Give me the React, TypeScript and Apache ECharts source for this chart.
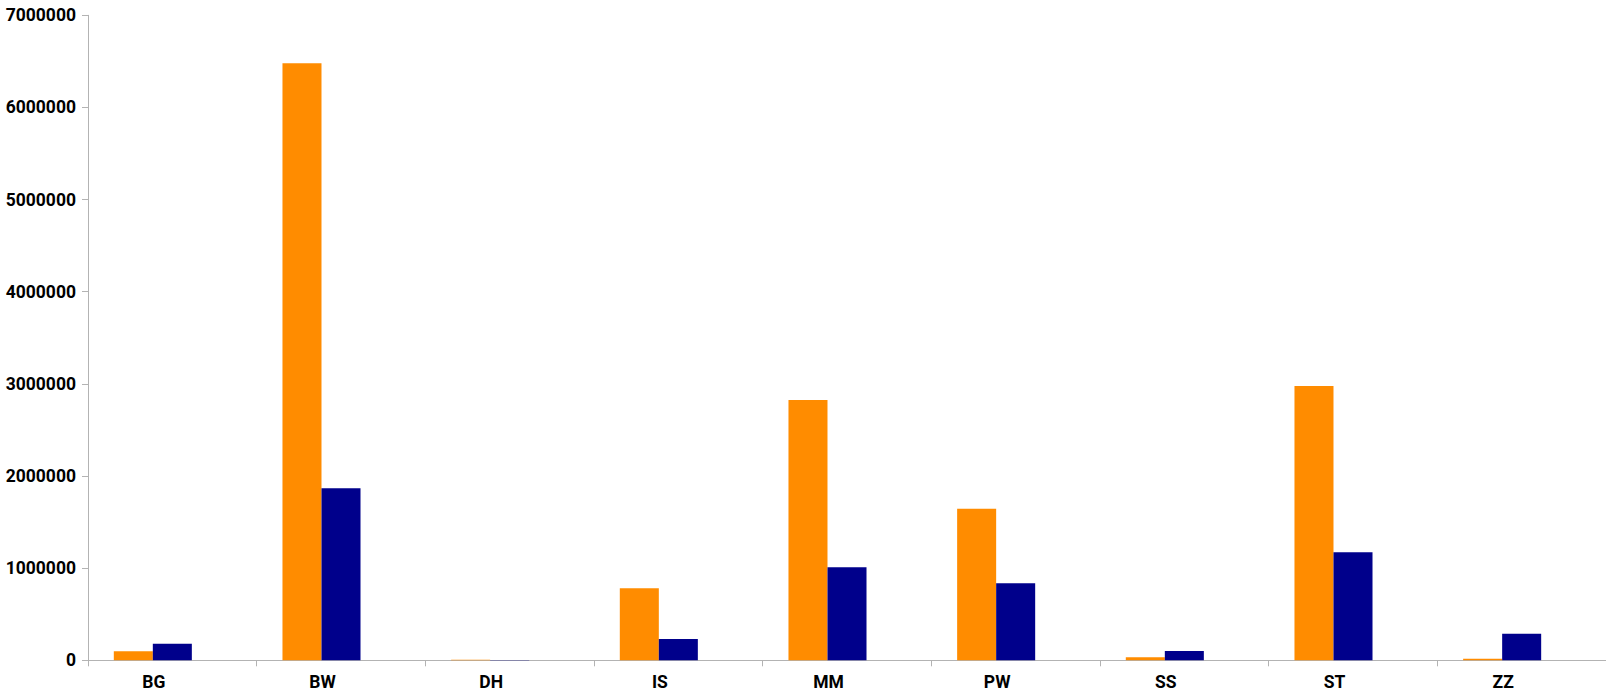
import React, { useEffect, useRef } from "react";
import * as echarts from "echarts";

const categories = ["BG", "BW", "DH", "IS", "MM", "PW", "SS", "ST", "ZZ"];
const seriesA = [98000, 6480000, 6000, 781000, 2825000, 1645000, 33000, 2977000, 17000];
const seriesB = [180000, 1866000, 4000, 231000, 1009000, 836000, 100000, 1172000, 289000];
const seriesC: (number | null)[] = [null, null, null, null, null, null, null, null, null];
const yTicks = { min: 0, max: 7000000, interval: 1000000 };

export default function App() {
  const ref = useRef<HTMLDivElement>(null);
  useEffect(() => {
    if (!ref.current) return;
    const chart = echarts.init(ref.current, undefined, { renderer: "svg" });
    const labelFont = {
      fontFamily: "Roboto",
      fontWeight: "bold" as const,
      fontSize: 17.5,
      color: "#000",
    };
    chart.setOption({
      animation: false,
      grid: { left: 88, right: 0, top: 15.3, bottom: 39.7, outerBoundsMode: "none" },
      xAxis: {
        type: "category",
        data: categories,
        axisLine: { lineStyle: { color: "#b3b3b3", width: 1 } },
        axisTick: { show: true, length: 6, lineStyle: { color: "#b3b3b3" } },
        axisLabel: { ...labelFont, margin: 13, padding: [0, 37, 0, 0] },
        splitLine: { show: false },
      },
      yAxis: {
        type: "value",
        min: yTicks.min,
        max: yTicks.max,
        interval: yTicks.interval,
        axisLine: { show: true, lineStyle: { color: "#b3b3b3", width: 1 } },
        axisTick: { show: true, length: 6, lineStyle: { color: "#b3b3b3" } },
        axisLabel: { ...labelFont, margin: 12, formatter: (v: number) => String(v) },
        splitLine: { show: false },
      },
      series: [
        {
          type: "bar",
          data: seriesA,
          barGap: "0%",
          barCategoryGap: "30.6%",
          itemStyle: { color: "#FF8C00" },
        },
        {
          type: "bar",
          data: seriesB,
          barGap: "0%",
          barCategoryGap: "30.6%",
          itemStyle: { color: "#00008B" },
        },
        {
          type: "bar",
          data: seriesC,
          barGap: "0%",
          barCategoryGap: "30.6%",
          itemStyle: { color: "#888888" },
        },
      ],
    });
    return () => chart.dispose();
  }, []);
  return (
    <div
      ref={ref}
      style={{ position: "absolute", left: 0, top: 0, width: 1606, height: 700, background: "#fff" }}
    />
  );
}
